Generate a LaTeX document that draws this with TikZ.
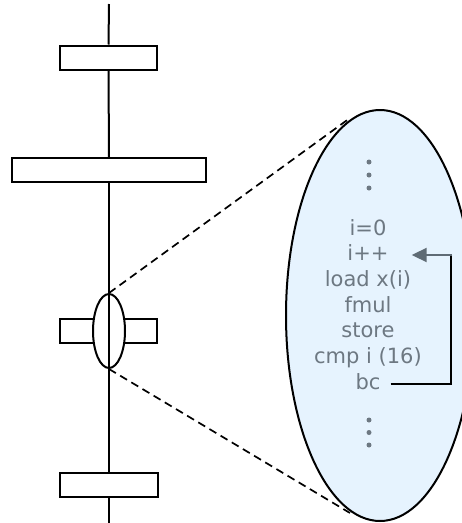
\documentclass[tikz,border=0pt]{standalone}
\usepackage{fontspec}
\setmainfont{DejaVu Sans}
\usetikzlibrary{arrows.meta,calc,shapes.geometric}
\definecolor{codegrey}{HTML}{6D7882}
\definecolor{arrowgrey}{HTML}{5F6B75}
\definecolor{zoomfill}{HTML}{E6F3FE}
\tikzset{
  stage/.style={draw, line width=2pt, fill=white, minimum height=24pt, inner sep=0pt},
  wire/.style={line width=2pt},
  lens/.style={draw, line width=2pt, ellipse},
  guide/.style={line width=1.7pt, dash pattern=on 8pt off 5pt},
  code/.style={text=codegrey, font=\fontsize{21}{25}\selectfont, anchor=base, inner sep=0pt},
  dot/.style={fill=codegrey, circle, minimum size=5pt, inner sep=0pt},
}
\begin{document}
\begin{tikzpicture}[x=1pt, y=-1pt]
  \useasboundingbox (0,0) rectangle (462,523);
  \clip (0,0) rectangle (462,523);

  % pipeline stages along the main line
  \coordinate (top) at (109,4);
  \coordinate (bottom) at (109,523);
  \node[stage, minimum width=97pt] (s1) at (108.5,57.5) {};
  \node[stage, minimum width=194pt] (s2) at (109,170) {};
  \node[stage, minimum width=97pt] (s3) at (108.5,331) {};
  \node[stage, minimum width=98pt] (s4) at (109,484.5) {};

  % small lens over the third stage
  \node[lens, fill=white, minimum width=32pt, minimum height=74pt, inner sep=0pt] (lens) at (109,331) {};

  \draw[wire] (top) -- (s1.north);
  \draw[wire] (s1.south) -- (s2.north);
  \draw[wire] (s2.south) -- (lens.north);
  \draw[wire] (lens.north) -- (lens.south);
  \draw[wire] (lens.south) -- (s4.north);
  \draw[wire] (s4.south) -- (bottom);

  % enlarged view
  \node[lens, fill=zoomfill, minimum width=188pt, minimum height=411pt, inner sep=0pt] (zoom) at (380,315.5) {};
  \coordinate (zt) at (350,118);
  \coordinate (zb) at (350,513);
  \draw[guide] (lens.north) -- (zt);
  \draw[guide] (lens.south) -- (zb);

  % code listing
  \node[dot] (d1) at (369,162) {};
  \node[dot] (d2) at (369,175) {};
  \node[dot] (d3) at (369,188) {};
  \node[code] (l1) at (368,235) {i=0};
  \node[code] (l2) at (368,260.7) {i++};
  \node[code] (l3) at (368,286.3) {load x(i)};
  \node[code] (l4) at (368,312) {fmul};
  \node[code] (l5) at (368,337.7) {store};
  \node[code] (l6) at (368,363.3) {cmp i (16)};
  \node[code] (l7) at (368,389) {bc};
  \node[dot] (d4) at (369,420) {};
  \node[dot] (d5) at (369,432.5) {};
  \node[dot] (d6) at (369,445) {};

  % loop back edge from the branch to the increment
  \coordinate (bstart) at ($(l7.base east)+(10,-5)$);
  \coordinate (corner) at (451,255);
  \coordinate (itarget) at ($(l2.base east)+(23,-5.7)$);
  \draw[line width=2pt, black] (bstart) -| (corner);
  \draw[line width=2pt, arrowgrey, -{Triangle[length=15pt, width=14pt]}] ([xshift=1pt]corner) -- (itarget);
\end{tikzpicture}
\end{document}
